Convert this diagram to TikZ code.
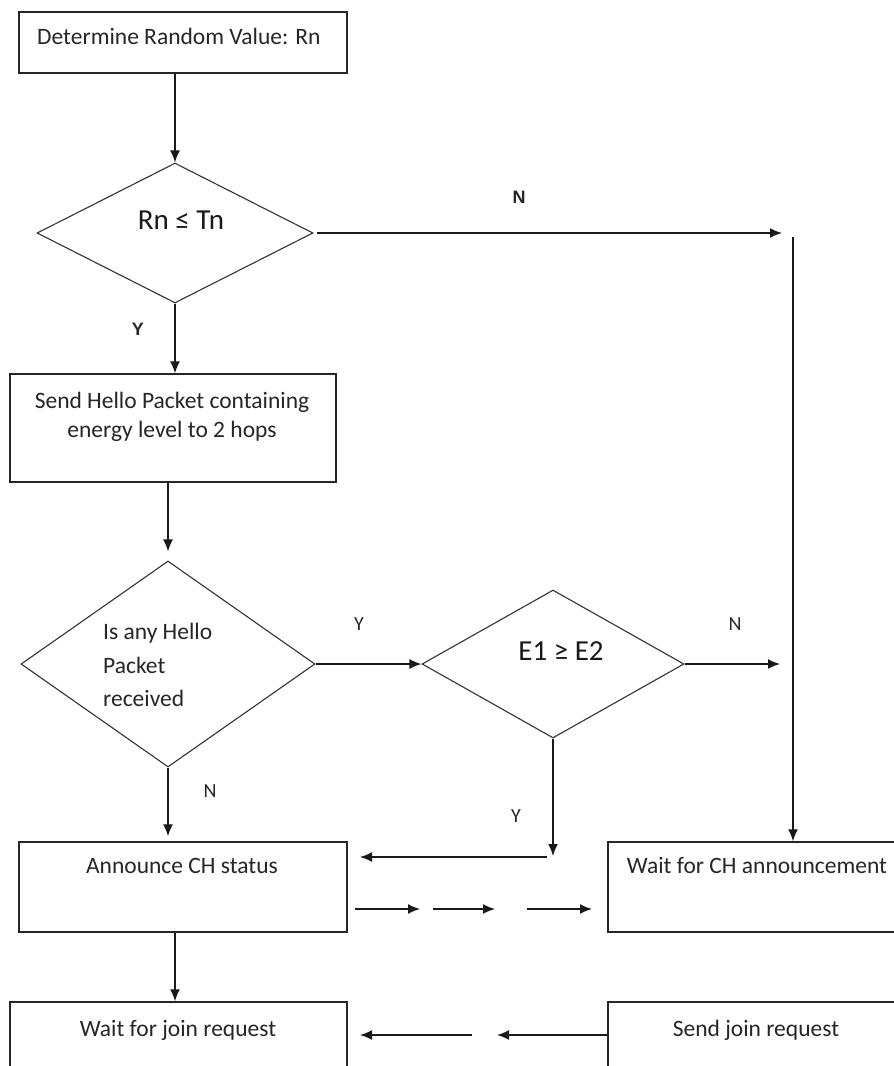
\documentclass[tikz,border=0pt]{standalone}
\usepackage{fontspec}
\setmainfont{Carlito}
\newfontfamily\arialfont{Liberation Sans}
\usetikzlibrary{shapes.geometric,arrows.meta}
\begin{document}
\begin{tikzpicture}[x=1pt,y=-1pt,
  boxshape/.style={draw=black!85,line width=1.4pt,rectangle,inner sep=0pt},
  decshape/.style={draw=black!80,line width=1.1pt,diamond,inner sep=0pt},
  txt/.style={inner sep=0pt,anchor=base,font=\fontsize{23.5}{27}\selectfont,text=black!85},
  bigtxt/.style={inner sep=0pt,anchor=base,font=\fontsize{29}{32}\selectfont,text=black!90},
  lbl/.style={inner sep=0pt,anchor=base,font=\fontsize{20}{23}\selectfont,text=black!85},
  albl/.style={inner sep=0pt,anchor=base,font=\arialfont\bfseries\fontsize{18}{21}\selectfont,text=black!85},
  arr/.style={line width=1.6pt,draw=black!90,-{Latex[length=12pt,width=10pt]}},
  ln/.style={line width=1.6pt,draw=black!90}]
\useasboundingbox (0,0) rectangle (894,1066);
\fill[white] (0,0) rectangle (894,1066);

% boxes
\node[boxshape,minimum width=328pt,minimum height=61pt] (b1) at (183,42.5) {};
\node[boxshape,minimum width=326pt,minimum height=108pt] (b2) at (173,428) {};
\node[boxshape,minimum width=328pt,minimum height=90pt] (b3) at (183,887) {};
\node[boxshape,minimum width=292pt,minimum height=90pt] (b4) at (754,887) {};
\node[boxshape,minimum width=337pt,minimum height=70pt] (b5) at (178.5,1037) {};
\node[boxshape,minimum width=292pt,minimum height=70pt] (b6) at (754,1037) {};

% diamonds
\node[decshape,minimum width=276pt,minimum height=140pt] (d1) at (175,233) {};
\node[decshape,minimum width=294pt,minimum height=206pt] (d2) at (168,664) {};
\node[decshape,minimum width=262pt,minimum height=148pt] (d3) at (553,664) {};

% texts
\node[txt,anchor=base west] (t1) at (37,44) {Determine Random Value: Rn};
\node[bigtxt] (t2) at (181,229) {Rn ≤ Tn};
\node[txt] (t3a) at (172,408) {Send Hello Packet containing};
\node[txt] (t3b) at (172,437) {energy level to 2 hops};
\node[txt,anchor=base west] (t4a) at (103,639) {Is any Hello};
\node[txt,anchor=base west] (t4b) at (103,673) {Packet};
\node[txt,anchor=base west] (t4c) at (103,706) {received};
\node[bigtxt] (t5) at (561,660) {E1 ≥ E2};
\node[txt] (t6) at (182,873) {Announce CH status};
\node[txt] (t7) at (757,873) {Wait for CH announcement};
\node[txt] (t8) at (178,1036) {Wait for join request};
\node[txt] (t9) at (756,1036) {Send join request};

% labels
\node[albl] (lN1) at (519,203) {N};
\node[albl] (lY1) at (138,335) {Y};
\node[lbl] (lY2) at (359,630) {Y};
\node[lbl] (lN2) at (735,630) {N};
\node[lbl] (lN3) at (210,797) {N};
\node[lbl] (lY3) at (516,822) {Y};

% coordinates
\coordinate (nEnd) at (782,233);
\coordinate (vTop) at (793,237);
\coordinate (e2End) at (780,664);
\coordinate (yEnd) at (553,856);
\coordinate (lStart) at (547,857);
\coordinate (lEnd) at (360,857);
\coordinate (a1s) at (355,909); \coordinate (a1e) at (420,909);
\coordinate (a2s) at (433,909); \coordinate (a2e) at (495,909);
\coordinate (a3s) at (527,909); \coordinate (a3e) at (592,909);
\coordinate (j1e) at (497,1035);
\coordinate (j2s) at (472,1035);
\coordinate (j2e) at (360,1035);
\coordinate (vS) at (175,932);

% connectors
\draw[arr] (d1.north |- b1.south) -- (d1.north);
\draw[arr,shorten <=3pt] (d1.east) -- (nEnd);
\draw[arr] (vTop) -- (vTop |- b4.north);
\draw[arr] (d1.south) -- (d1.south |- b2.north);
\draw[arr,shorten >=9pt] (d2.north |- b2.south) -- (d2.north);
\draw[arr] (d2.east) -- (d3.west);
\draw[arr] (d3.east) -- (e2End);
\draw[arr] (d3.south) -- (yEnd);
\draw[arr] (lStart) -- (lEnd);
\draw[arr,shorten >=5pt] (d2.south) -- (d2.south |- b3.north);
\draw[arr] (a1s) -- (a1e);
\draw[arr] (a2s) -- (a2e);
\draw[arr] (a3s) -- (a3e);
\draw[arr] (vS |- b3.south) -- (vS |- b5.north);
\draw[arr] (b6.west |- j1e) -- (j1e);
\draw[arr] (j2s) -- (j2e);
\end{tikzpicture}
\end{document}
